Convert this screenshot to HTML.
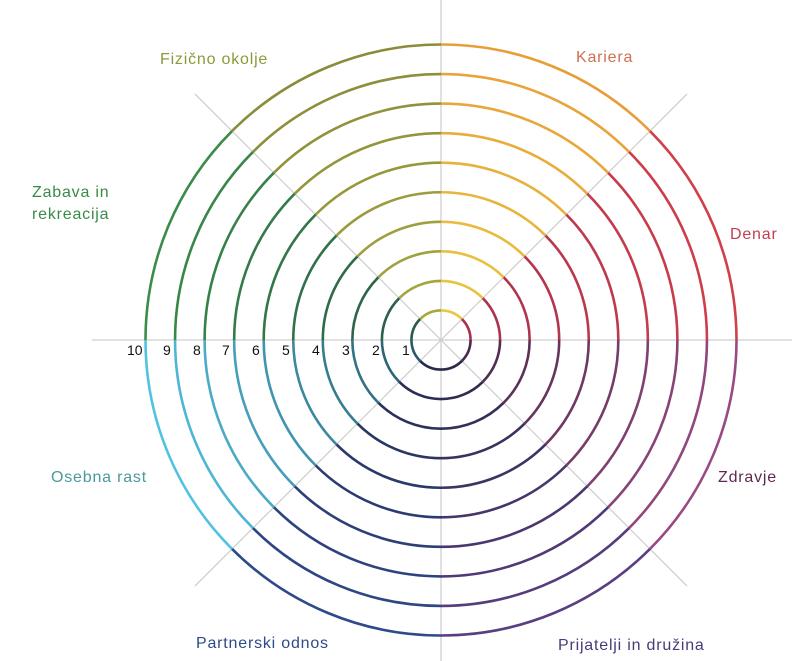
<!DOCTYPE html>
<html><head><meta charset="utf-8"><style>
html,body{margin:0;padding:0;background:#fff;width:802px;height:661px;overflow:hidden}
svg{display:block}
text{font-family:"Liberation Sans",sans-serif}
</style></head><body>
<svg id="s" width="802" height="661" viewBox="0 0 802 661" xmlns="http://www.w3.org/2000/svg">
<g stroke="#cfcfcf" stroke-width="1.3">
<line x1="92" y1="340" x2="792" y2="340"/>
<line x1="441" y1="0" x2="441" y2="661"/>
<line x1="195" y1="94" x2="687" y2="586"/>
<line x1="195" y1="586" x2="687" y2="94"/>
</g>
<g id="rings" fill="none" stroke-width="2.6"></g>
<g font-size="14" fill="#111">
<text x="127" y="355">10</text><text x="163" y="355">9</text><text x="193" y="355">8</text><text x="222" y="355">7</text><text x="252" y="355">6</text><text x="282" y="355">5</text><text x="312" y="355">4</text><text x="342" y="355">3</text><text x="372" y="355">2</text><text x="402" y="355">1</text>
</g>
<g font-size="16" letter-spacing="0.8">
<text x="160" y="64" fill="#8a9a3a">Fizično okolje</text>
<text x="576" y="62" fill="#d07050">Kariera</text>
<text x="32" y="197" fill="#3a8a48">Zabava in</text>
<text x="32" y="219" fill="#3a8a48">rekreacija</text>
<text x="730" y="239" fill="#c04050">Denar</text>
<text x="51" y="482" fill="#4a9a9a">Osebna rast</text>
<text x="718" y="482" fill="#602a50">Zdravje</text>
<text x="196" y="648" fill="#2e4a8a">Partnerski odnos</text>
<text x="558" y="650" fill="#4a3a7a">Prijatelji in družina</text>
</g>
</svg>
<script>
var outer=["#e89e38","#d0404a","#9a4a82","#5a3e82","#2e4a8a","#52c2e2","#3a8c48","#8a8c3a"];
var inner=["#e8c840","#a83050","#4a2a4a","#2a2a4a","#2a2a50","#2a5a6a","#2a5a4a","#a8a840"];
function hx(c){return [parseInt(c.substr(1,2),16),parseInt(c.substr(3,2),16),parseInt(c.substr(5,2),16)]}
function mix(a,b,t){var A=hx(a),B=hx(b);return "rgb("+A.map(function(v,i){return Math.round(v+(B[i]-v)*t)}).join(",")+")"}
var g=document.getElementById("rings"),cx=441,cy=340,out="";
for(var n=1;n<=10;n++){var r=29.55*n;
for(var k=0;k<8;k++){var a0=(k*45-90)*Math.PI/180,a1=((k+1)*45-90)*Math.PI/180;
var x0=cx+r*Math.cos(a0),y0=cy+r*Math.sin(a0),x1=cx+r*Math.cos(a1),y1=cy+r*Math.sin(a1);
var c=mix(inner[k],outer[k],(n-1)/9);
out+='<path stroke="'+c+'" d="M'+x0.toFixed(2)+' '+y0.toFixed(2)+' A'+r+' '+r+' 0 0 1 '+x1.toFixed(2)+' '+y1.toFixed(2)+'"/>';}}
g.innerHTML=out;
</script>
</body></html>
